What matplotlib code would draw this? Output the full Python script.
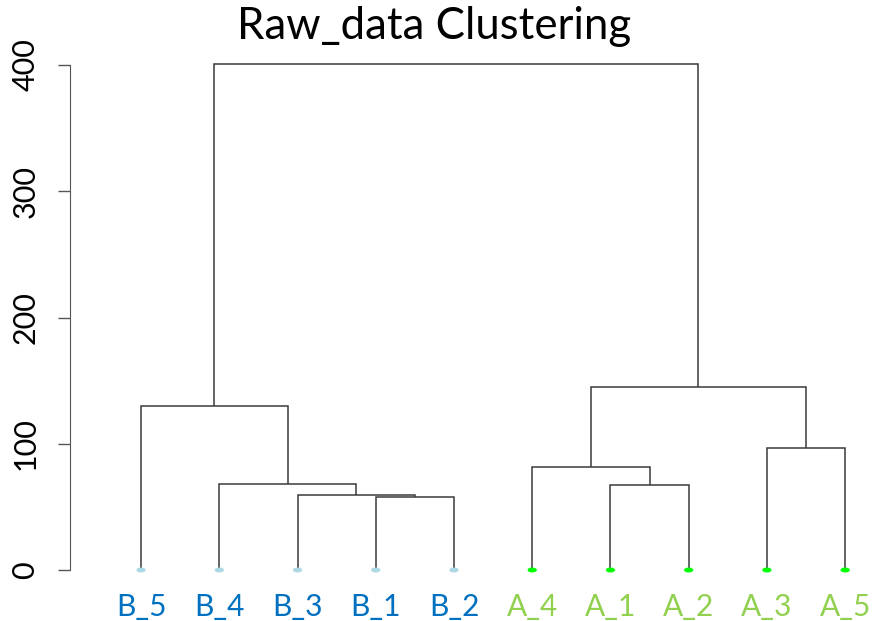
import matplotlib
matplotlib.use("Agg")
import matplotlib.pyplot as plt
from matplotlib.patches import Ellipse

# leaf order along the x axis
leaf_order = ["B_5", "B_4", "B_3", "B_1", "B_2", "A_4", "A_1", "A_2", "A_3", "A_5"]
# merges: (left child, right child, height); int = earlier merge index, str = leaf
merges = [
    ("B_1", "B_2", 57.6),
    ("B_3", 0, 59.4),
    ("B_4", 1, 68.1),
    ("B_5", 2, 129.9),
    ("A_1", "A_2", 67.3),
    ("A_4", 4, 81.6),
    ("A_3", "A_5", 96.9),
    (5, 6, 144.7),
    (3, 7, 400.8),
]
label_colors = {"B": "#0070C0", "A": "#92D050"}
dot_colors = {"B": "#ADD8E6", "A": "#00FF00"}
yticks = [0, 100, 200, 300, 400]

plt.rcParams['font.family'] = ['Lato', 'DejaVu Sans']

fig = plt.figure(figsize=(8.74, 6.21), dpi=100)
ax = fig.add_axes([0.0801, 0.066, 0.9039, 0.8454])

pos = {name: i + 1 for i, name in enumerate(leaf_order)}
node_x = []
node_h = []


def child_xy(c):
    if isinstance(c, str):
        return pos[c], 0.0
    return node_x[c], node_h[c]


line_color = "#3a3a3a"
for left, right, h in merges:
    x1, h1 = child_xy(left)
    x2, h2 = child_xy(right)
    ax.plot([x1, x1, x2, x2], [h1, h, h, h2], color=line_color, lw=1.1,
            solid_joinstyle="miter", solid_capstyle="butt")
    node_x.append((x1 + x2) / 2)
    node_h.append(h)

for name in leaf_order:
    g = name[0]
    ax.add_patch(Ellipse((pos[name], 0), 0.1, 2.8, color=dot_colors[g], zorder=3))
    ax.text(pos[name], -18, name, color=label_colors[g], fontsize=21.5,
            ha="center", va="top")

ax.set_xlim(0.092, 10.19)
ax.set_ylim(-7.92, 407.92)
ax.set_xticks([])
ax.set_yticks(yticks)
ax.set_yticklabels([str(t) for t in yticks], rotation=90, va="center", fontsize=22)
ax.tick_params(axis="y", length=9, width=1, color="#555555", pad=13)
for s in ["top", "right", "bottom"]:
    ax.spines[s].set_visible(False)
ax.spines["left"].set_bounds(0, 400)
ax.spines["left"].set_color("#555555")

fig.text(0.497, 0.958, "Raw_data Clustering", ha="center", va="center", fontsize=31.5)

fig.savefig("out.png", dpi=100)
